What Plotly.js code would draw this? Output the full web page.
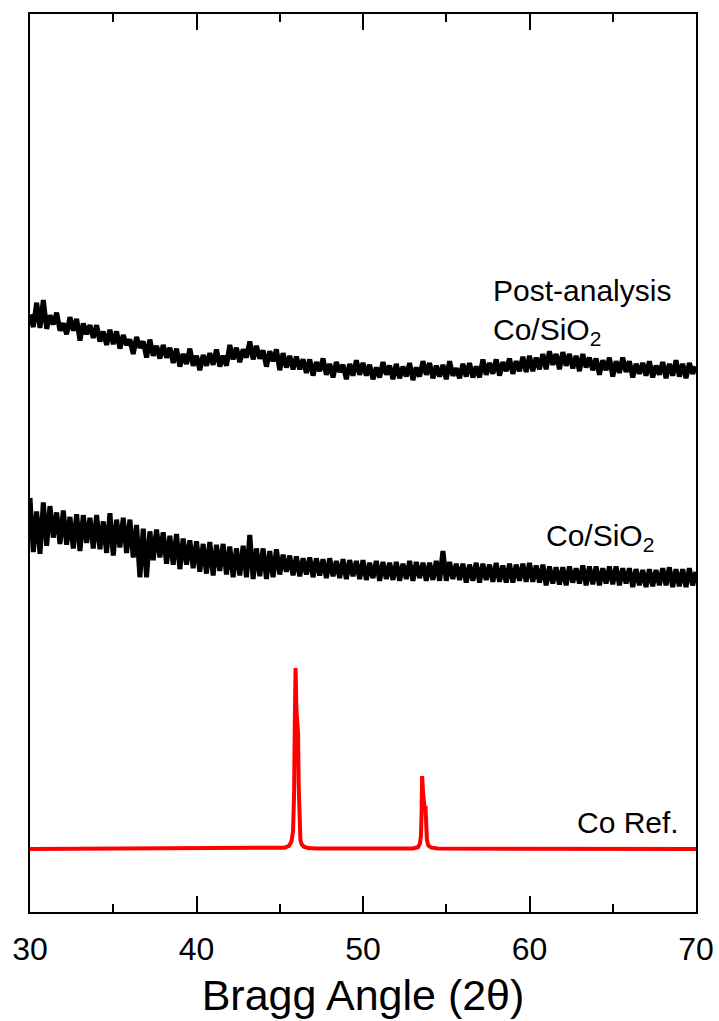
<!DOCTYPE html>
<html>
<head>
<meta charset="utf-8">
<script src="https://cdn.plot.ly/plotly-3.0.1.min.js"></script>
<style>html,body{margin:0;padding:0;background:#fff;}#chart{width:719px;height:1021px;}</style>
</head>
<body>
<div id="chart"></div>
<script>
// Bragg angle sampling for measured patterns: 30.0 to 70.0 in 0.2 steps
const angleStart = 30, angleStep = 0.2;

// Post-analysis Co/SiO2 (offset intensity, a.u.)
const postAnalysis = [
66.4,65.0,67.7,64.9,68.0, 64.8,66.3,65.3,66.6,64.6, 65.4,64.2,66.1,64.6,65.9, 63.5,65.4,64.2,65.2,63.8,
65.2,63.4,64.5,63.0,64.7, 63.1,64.5,62.6,64.1,63.0, 63.6,62.0,63.9,62.7,63.4, 61.6,63.6,61.8,62.9,61.5,
63.0,61.6,62.7,61.0,62.6, 60.6,62.0,60.9,62.6,60.7, 61.8,60.2,61.9,60.7,62.1, 60.8,62.5,60.6,61.8,60.7,
63.0,61.4,62.7,61.1,62.5, 61.6,63.4,61.4,62.9,61.5, 62.4,60.6,62.3,61.2,62.5, 60.2,62.1,60.5,61.8,60.3,
61.7,60.3,61.4,59.9,61.4, 59.6,61.1,60.1,61.5,59.7, 60.9,59.4,61.1,60.0,60.8, 59.2,60.9,59.6,61.3,59.7,
61.0,59.6,60.8,59.2,60.5, 59.4,61.1,59.7,60.7,59.2, 60.9,59.3,60.6,59.5,61.0, 59.1,60.5,59.5,61.2,59.7,
61.0,59.3,60.7,59.5,60.8, 59.2,61.2,59.6,60.4,59.3, 60.9,59.5,61.0,59.4,60.6, 59.4,61.4,59.7,61.0,59.8,
61.4,59.6,61.1,60.1,61.5, 59.8,61.2,60.1,61.7,60.0, 61.8,60.1,61.6,60.3,62.0, 60.3,62.3,60.8,62.0,60.3,
62.2,60.7,62.0,60.4,61.8, 60.1,62.0,60.5,61.6,60.2, 61.5,59.7,61.3,60.2,61.6, 59.5,61.2,59.9,61.6,60.0,
61.2,59.4,60.9,59.8,61.0, 59.6,61.2,59.4,60.7,59.7, 61.1,59.3,60.9,59.6,61.3, 59.5,60.9,59.3,61.0,59.8,
60.6];

// As-prepared Co/SiO2 (offset intensity, a.u.)
const coSiO2 = [
46.0,40.0,44.5,39.8,45.5, 40.7,45.1,41.6,44.4,40.9, 44.6,40.8,43.9,40.4,44.2, 40.1,44.1,41.0,43.8,40.4,
44.1,40.3,43.4,39.9,44.3, 39.6,43.6,40.5,43.8,39.9, 43.6,39.4,43.0,37.2,42.6, 37.2,42.3,39.1,42.5,39.4,
42.2,38.7,41.8,38.6,42.0, 38.1,41.5,38.6,41.3,38.2, 41.2,37.8,40.9,37.6,41.1, 37.4,40.8,37.9,40.9,37.5,
40.6,37.2,40.4,37.4,40.7, 37.2,41.9,37.0,40.4,37.3, 40.4,37.0,40.1,37.2,40.3, 37.5,39.7,37.8,39.6,37.4,
39.5,37.3,39.3,37.5,39.4, 37.2,39.3,37.4,39.2,37.1, 39.3,37.3,39.0,37.1,39.2, 37.0,39.1,37.3,39.0,37.0,
39.1,36.9,38.8,37.1,39.0, 36.8,38.9,37.0,38.8,36.9, 38.9,36.8,38.7,37.0,39.0, 36.8,38.9,37.1,38.8,36.8,
38.8,36.9,39.0,36.8,40.1, 36.8,38.9,37.0,38.7,36.9, 38.7,36.6,38.6,36.8,38.8, 36.6,38.7,36.9,38.6,36.7,
38.8,36.7,38.5,36.6,38.7, 36.6,38.6,36.8,38.7,36.7, 38.8,36.7,38.5,36.6,38.6, 36.3,38.4,36.5,38.3,36.4,
38.3,36.3,38.4,36.6,38.2, 36.5,38.5,36.3,38.4,36.4, 38.4,36.3,38.2,36.5,38.4, 36.4,38.4,36.3,38.2,36.5,
38.2,36.1,38.1,36.3,38.0, 36.1,38.1,36.2,38.0,36.3, 38.2,36.3,38.3,36.1,38.1, 36.2,38.1,36.1,38.2,36.3,
37.8];

// Co reference pattern
const coRefAngle = [30,44.8,45.3,45.55,45.7,45.8,45.86,45.91,45.95,46.0,46.05,46.1,46.14,46.18,46.24,46.32,46.45,46.7,47.2,
  53.0,53.3,53.42,53.48,53.52,53.55,53.6,53.65,53.7,53.75,53.79,53.84,53.92,54.1,54.5,70];
const coRefInt = [7.0,7.05,7.15,7.35,7.8,9.0,13.0,22.0,27.1,22.5,20.0,19.8,14.0,9.5,8.0,7.5,7.25,7.1,7.05,
  7.05,7.2,7.6,8.5,11.0,15.1,13.5,11.5,11.3,11.8,9.5,8.0,7.4,7.15,7.05,7.0];

const xTicks = [30,40,50,60,70];
const labels = {post: 'Post-analysis<br>Co/SiO<sub>2</sub>', fresh: 'Co/SiO<sub>2</sub>', ref: 'Co Ref.'};

const angles = postAnalysis.map((_, i) => +(angleStart + i * angleStep).toFixed(2));

const font = 'Liberation Sans, Arial, sans-serif';
const traces = [
  {x: angles, y: postAnalysis, mode: 'lines', line: {color: '#000', width: 5}, hoverinfo: 'skip'},
  {x: angles, y: coSiO2, mode: 'lines', line: {color: '#000', width: 5}, hoverinfo: 'skip'},
  {x: coRefAngle, y: coRefInt, mode: 'lines', line: {color: '#ff0000', width: 4}, hoverinfo: 'skip'}
];

const layout = {
  width: 719, height: 1021,
  margin: {l: 30, r: 23, t: 14, b: 109},
  paper_bgcolor: '#fff', plot_bgcolor: '#fff',
  showlegend: false,
  font: {family: font, color: '#000'},
  xaxis: {
    range: [30, 70], tickvals: xTicks, ticktext: xTicks.map(String),
    ticks: 'inside', ticklen: 16, tickwidth: 2, tickcolor: '#000',
    minor: {dtick: 5, tick0: 35, ticks: 'inside', ticklen: 8, tickwidth: 2, tickcolor: '#000', showgrid: false},
    showline: true, linewidth: 2, linecolor: '#000', mirror: 'allticks',
    showgrid: false, zeroline: false,
    tickfont: {family: font, size: 32, color: '#000'},
    ticklabelstandoff: 8,
    title: {text: 'Bragg Angle (2θ)', font: {family: font, size: 43, color: '#000'}, standoff: 13}
  },
  yaxis: {
    range: [0, 99.78], showline: true, linewidth: 2, linecolor: '#000', mirror: true,
    ticks: '', showticklabels: false, showgrid: false, zeroline: false
  },
  annotations: [
    {x: 57.67, y: 71.1, xref: 'x', yref: 'y', xanchor: 'left', yanchor: 'top', align: 'left', showarrow: false,
     text: labels.post, font: {family: font, size: 30, color: '#000'}},
    {x: 60.9, y: 43.9, xref: 'x', yref: 'y', xanchor: 'left', yanchor: 'top', align: 'left', showarrow: false,
     text: labels.fresh, font: {family: font, size: 30, color: '#000'}},
    {x: 62.73, y: 12.05, xref: 'x', yref: 'y', xanchor: 'left', yanchor: 'top', align: 'left', showarrow: false,
     text: labels.ref, font: {family: font, size: 30, color: '#000'}}
  ]
};

Plotly.newPlot('chart', traces, layout, {staticPlot: true, displayModeBar: false});
</script>
</body>
</html>
